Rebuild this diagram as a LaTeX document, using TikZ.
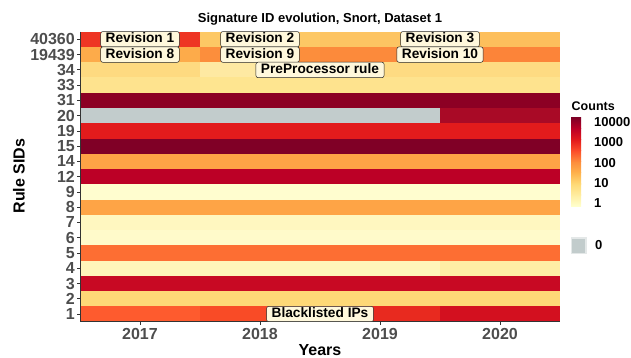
\documentclass[tikz,border=0pt]{standalone}
\usepackage{fontspec}
\setmainfont{Liberation Sans}
\definecolor{axisgrey}{HTML}{4D4D4D}
\definecolor{axisline}{HTML}{333333}
\definecolor{labelfill}{HTML}{FFF8DC}
\definecolor{zerogrey}{HTML}{C2CCCC}
\definecolor{yl1}{HTML}{FFFFCC}
\definecolor{yl2}{HTML}{FFEDA0}
\definecolor{yl3}{HTML}{FED976}
\definecolor{yl4}{HTML}{FEB24C}
\definecolor{yl5}{HTML}{FD8D3C}
\definecolor{yl6}{HTML}{FC4E2A}
\definecolor{yl7}{HTML}{E31A1C}
\definecolor{yl8}{HTML}{BD0026}
\definecolor{yl9}{HTML}{800026}
\begin{document}
\begin{tikzpicture}[x=1pt,y=-1pt,
  ticklab/.style={font=\fontsize{16}{16}\selectfont\bfseries, text=axisgrey, inner sep=0pt},
  lbl/.style={draw=black!85, line width=0.5pt, fill=labelfill, rounded corners=2pt,
    font=\fontsize{13.7}{14}\selectfont\bfseries, inner xsep=5pt, inner ysep=1.4pt,
    text height=10pt, text depth=2.6pt},
  leglab/.style={font=\fontsize{13}{13}\selectfont\bfseries, inner sep=0pt, anchor=west},
  tickline/.style={axisline, line width=0.8pt},
]
\useasboundingbox (0,0) rectangle (631,358);
% heatmap tiles
\foreach \lab/\ca/\cb/\cc/\cd [count=\i from 0] in {
  40360/EE3524/FDC865/FDC462/FDBF5C,
  19439/FDAB4A/FC8E3C/FC8A3B/FC8439,
  34/FEDA80/FEE9A2/FEDB82/FEDB82,
  33/FEE38E/FEE590/FEE38E/FEE38E,
  31/8C0024/8C0024/8C0024/8C0024,
  20/C2CCCC/C2CCCC/C2CCCC/A90A26,
  19/E21B1C/E21B1C/E21B1C/E21B1C,
  15/800026/800026/800026/800026,
  14/FEA446/FEA446/FEA446/FEA446,
  12/BC0026/BC0026/BC0026/BC0026,
  9/FFFDCF/FFFDCF/FFFDCF/FFFDCF,
  8/FEA446/FEA446/FEA446/FEA446,
  7/FFF7C0/FFF7C0/FFF7C0/FFF7C0,
  6/FFFACA/FFFACA/FFFACA/FFFACA,
  5/FD6E33/FD6E33/FD6E33/FD6E33,
  4/FFF5BA/FFF5BA/FFF5BA/FEEDA5,
  3/C80923/C80923/C80923/C80923,
  2/FED877/FED877/FED877/FED877,
  1/FE5B2E/F94B26/E82A1F/D3101F} {
  \pgfmathsetmacro\yt{31.7+\i*15.263}
  \pgfmathsetmacro\yb{31.7+(\i+1)*15.263+0.3}
  \pgfmathsetmacro\ym{31.7+(\i+0.5)*15.263}
  \definecolor{tca}{HTML}{\ca}
  \definecolor{tcb}{HTML}{\cb}
  \definecolor{tcc}{HTML}{\cc}
  \definecolor{tcd}{HTML}{\cd}
  \fill[tca] (80,\yt) rectangle (200.3,\yb);
  \fill[tcb] (200,\yt) rectangle (320.3,\yb);
  \fill[tcc] (320,\yt) rectangle (440.3,\yb);
  \fill[tcd] (440,\yt) rectangle (560,\yb);
  \node[ticklab, anchor=east] (sid\i) at (75,\ym) {\lab};
  \coordinate (tk\i) at (77,\ym);
  \coordinate (ta\i) at (80,\ym);
  \draw[tickline] (tk\i) -- (ta\i);
}
% axes
\coordinate (ax0) at (80,31.7);
\coordinate (ax1) at (80,321.7);
\coordinate (ax2) at (560,321.7);
\draw[axisline, line width=0.9pt] (ax0) -- (ax1) -- (ax2);
\foreach \yr/\xx in {2017/140,2018/260,2019/380,2020/500} {
  \coordinate (yt\yr) at (\xx,321.7);
  \coordinate (yb\yr) at (\xx,324.7);
  \draw[tickline] (yt\yr) -- (yb\yr);
  \node[ticklab, anchor=base] (yr\yr) at (\xx,339) {\yr};
}
% axis titles and title
\node[font=\fontsize{16}{16}\selectfont\bfseries, inner sep=0pt, anchor=base] (xtitle) at (320,355.5) {Years};
\node[font=\fontsize{16}{16}\selectfont\bfseries, inner sep=0pt, rotate=90] (ytitle) at (19,176) {Rule SIDs};
\node[font=\fontsize{13}{13}\selectfont\bfseries, inner sep=0pt, anchor=base] (title) at (320,22.5) {Signature ID evolution, Snort, Dataset 1};
% labels
\node[lbl] (rev1) at (140,39.3) {Revision 1};
\node[lbl] (rev8) at (140,54.6) {Revision 8};
\node[lbl] (rev2) at (260,39.3) {Revision 2};
\node[lbl] (rev9) at (260,54.6) {Revision 9};
\node[lbl] (rev3) at (440,39.3) {Revision 3};
\node[lbl] (rev10) at (440,54.6) {Revision 10};
\node[lbl] (prep) at (320,69.9) {PreProcessor rule};
\node[lbl] (black) at (320,314) {Blacklisted IPs};
% legend
\node[font=\fontsize{12.5}{12.5}\selectfont\bfseries, inner sep=0pt, anchor=base west] (legtitle) at (571.5,110.5) {Counts};
\foreach \k [count=\j from 0] in {2,...,9} {
  \pgfmathtruncatemacro\kp{\k-1}
  \pgfmathsetmacro\sb{206-\j*11}
  \pgfmathsetmacro\st{206-(\j+1)*11-0.2}
  \shade[bottom color=yl\kp, top color=yl\k] (571,\sb) rectangle (581,\st);
}
\foreach \v/\yy in {10000/122.3,1000/142.5,100/162.7,10/183,1/203.3} {
  \node[leglab] (leg\v) at (594,\yy) {\v};
}
\fill[zerogrey, draw=zerogrey!45!white, line width=1.2pt] (571.5,238) rectangle (586,253.5);
\node[leglab] (legzero) at (595,245.5) {0};
\end{tikzpicture}
\end{document}
